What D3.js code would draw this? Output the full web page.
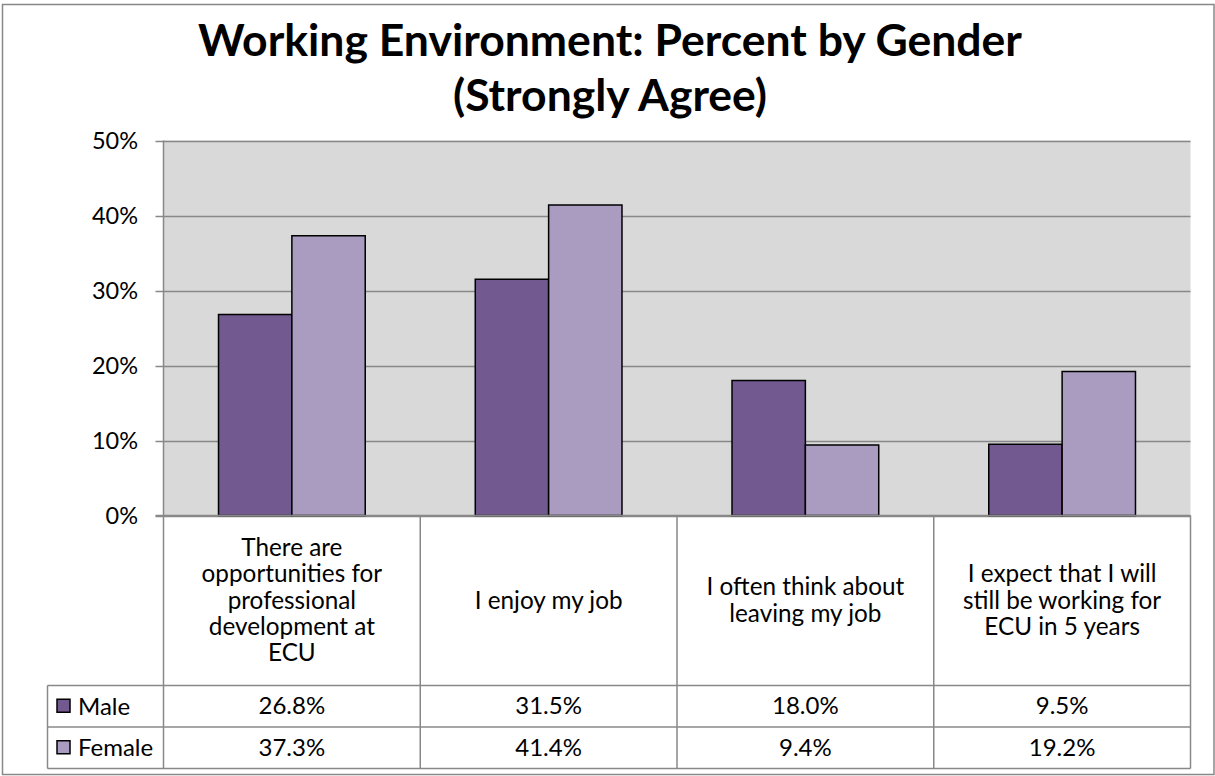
<!DOCTYPE html>
<html><head><meta charset="utf-8">
<script src="https://cdn.jsdelivr.net/npm/d3@7"></script>
<style>body{margin:0;background:#fff}svg{display:block}text{font-family:Lato,"Open Sans",sans-serif;fill:#000}</style>
</head><body>
<script>
const titleLines = ["Working Environment: Percent by Gender", "(Strongly Agree)"];
const categories = ["There are opportunities for professional development at ECU", "I enjoy my job", "I often think about leaving my job", "I expect that I will still be working for ECU in 5 years"];
const categoryLines = [["There are","opportunities for","professional","development at","ECU"],["I enjoy my job"],["I often think about","leaving my job"],["I expect that I will","still be working for","ECU in 5 years"]];
const seriesNames = ["Male", "Female"];
const maleValues = [26.8, 31.5, 18.0, 9.5];
const femaleValues = [37.3, 41.4, 9.4, 19.2];
const yTicks = [0, 10, 20, 30, 40, 50];
const colors = ["#725990", "#AA9BC0"];

const W = 1215, H = 776;
const svg = d3.select("body").append("svg").attr("width", W).attr("height", H);
svg.append("rect").attr("x", 2.5).attr("y", 4.5).attr("width", W - 3.5).attr("height", H - 6).attr("fill", "#fff").attr("stroke", "#888").attr("stroke-width", 1.5);

const L = 163.5, R = 1190.5, T = 140.5, B = 515.5;
const y = d3.scaleLinear().domain([0, 50]).range([B, T]);
const x0 = d3.scaleBand().domain(categories).range([L, R]).padding(0);
const x1 = d3.scaleBand().domain(seriesNames).range([0, x0.bandwidth()]).paddingInner(0).paddingOuter(0.75);

// title
svg.append("g").selectAll("text").data(titleLines).join("text")
  .attr("x", 610).attr("y", (d, i) => 56 + i * 55).attr("text-anchor", "middle")
  .style("font-size", "44.5px").style("font-weight", "bold").text(d => d);

// plot bg
svg.append("rect").attr("x", L).attr("y", T).attr("width", R - L).attr("height", B - T).attr("fill", "#D9D9D9");

// gridlines
svg.append("g").selectAll("line").data(yTicks).join("line")
  .attr("x1", L - 8).attr("x2", R).attr("y1", d => Math.round(y(d)) + 0.5).attr("y2", d => Math.round(y(d)) + 0.5)
  .attr("stroke", "#888").attr("stroke-width", 1.5);
svg.append("line").attr("x1", L).attr("x2", L).attr("y1", T).attr("y2", B).attr("stroke", "#888").attr("stroke-width", 1.5);

// y labels
svg.append("g").selectAll("text").data(yTicks).join("text")
  .attr("x", 138).attr("y", d => y(d) + 8).attr("text-anchor", "end")
  .style("font-size", "23.5px").text(d => d + "%");

// bars
const series = [maleValues, femaleValues];
const g = svg.append("g");
series.forEach((vals, si) => {
  g.selectAll(".b" + si).data(vals).join("rect")
    .attr("x", (d, i) => x0(categories[i]) + x1(seriesNames[si]))
    .attr("y", d => y(d)).attr("width", x1.bandwidth()).attr("height", d => B - y(d))
    .attr("fill", colors[si]).attr("stroke", "#000").attr("stroke-width", 1.5);
});
svg.append("line").attr("x1", L - 8).attr("x2", R).attr("y1", B).attr("y2", B).attr("stroke", "#888").attr("stroke-width", 1.5);

// data table
const rowTop = 685.5, rowMid = 727, rowBot = 768.5, legL = 47.5;
const tbl = svg.append("g").attr("stroke", "#888").attr("stroke-width", 1.5);
[rowTop, rowMid, rowBot].forEach(yy => tbl.append("line").attr("x1", legL).attr("x2", R).attr("y1", yy).attr("y2", yy));
tbl.append("line").attr("x1", legL).attr("x2", legL).attr("y1", rowTop).attr("y2", rowBot);
categories.forEach(c => tbl.append("line").attr("x1", x0(c)).attr("x2", x0(c)).attr("y1", B).attr("y2", rowBot));
tbl.append("line").attr("x1", R).attr("x2", R).attr("y1", B).attr("y2", rowBot);

// category labels
categories.forEach((c, i) => {
  const lines = categoryLines[i];
  const lh = 26.3, cy = (B + rowTop) / 2;
  svg.append("g").selectAll("text").data(lines).join("text")
    .attr("x", x0(c) + x0.bandwidth() / 2)
    .attr("y", (d, j) => cy + (j - (lines.length - 1) / 2) * lh + 8)
    .attr("text-anchor", "middle").style("font-size", "24.3px").text(d => d);
});

// values rows
const rowsY = [(rowTop + rowMid) / 2, (rowMid + rowBot) / 2];
series.forEach((vals, si) => {
  svg.append("g").selectAll("text").data(vals).join("text")
    .attr("x", (d, i) => x0(categories[i]) + x0.bandwidth() / 2)
    .attr("y", rowsY[si] + 8).attr("text-anchor", "middle").style("font-size", "24px")
    .text(d => d.toFixed(1) + "%");
  svg.append("rect").attr("x", 57).attr("y", rowsY[si] - 7).attr("width", 13).attr("height", 13)
    .attr("fill", colors[si]).attr("stroke", "#000").attr("stroke-width", 1.5);
  svg.append("text").attr("x", 78).attr("y", rowsY[si] + 8.5).style("font-size", "24px").text(seriesNames[si]);
});
</script>
</body></html>
